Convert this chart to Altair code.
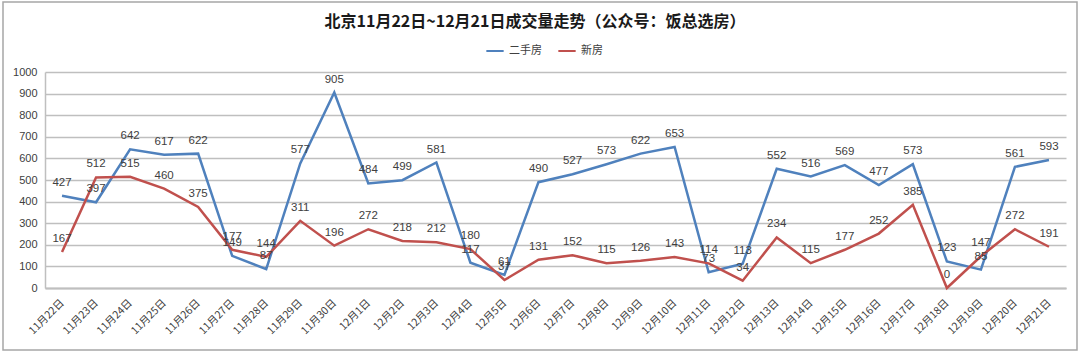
import altair as alt
import pandas as pd

dates = ["11月22日", "11月23日", "11月24日", "11月25日", "11月26日", "11月27日", "11月28日",
         "11月29日", "11月30日", "12月1日", "12月2日", "12月3日", "12月4日", "12月5日",
         "12月6日", "12月7日", "12月8日", "12月9日", "12月10日", "12月11日", "12月12日",
         "12月13日", "12月14日", "12月15日", "12月16日", "12月17日", "12月18日", "12月19日",
         "12月20日", "12月21日"]
second_hand = [427, 397, 642, 617, 622, 149, 87, 577, 905, 484, 499, 581, 117, 61, 490,
               527, 573, 622, 653, 73, 113, 552, 516, 569, 477, 573, 123, 85, 561, 593]
new_house = [167, 512, 515, 460, 375, 177, 144, 311, 196, 272, 218, 212, 180, 37, 131,
             152, 115, 126, 143, 114, 34, 234, 115, 177, 252, 385, 0, 147, 272, 191]
y_ticks = [0, 100, 200, 300, 400, 500, 600, 700, 800, 900, 1000]
series_names = ["二手房", "新房"]
series_colors = ["#4F81BD", "#C0504D"]
title_text = "北京11月22日~12月21日成交量走势（公众号：饭总选房）"

rows = []
for d, a, b in zip(dates, second_hand, new_house):
    rows.append({"date": d, "series": series_names[0], "value": a})
    rows.append({"date": d, "series": series_names[1], "value": b})
df = pd.DataFrame(rows)

xenc = alt.X("date:N", sort=dates, title=None,
             scale=alt.Scale(paddingInner=1, paddingOuter=0.5),
             axis=alt.Axis(labelAngle=-45, labelAlign="right", labelBaseline="middle",
                           labelPadding=13, ticks=False, domainColor="#BFBFBF", domainWidth=2,
                           labelFont="Noto Sans CJK SC", labelFontSize=10.5, labelColor="#404040",
                           grid=False))
yenc = alt.Y("value:Q", title=None,
             scale=alt.Scale(domain=[0, 1000], nice=False),
             axis=alt.Axis(values=y_ticks, ticks=False, labelPadding=8,
                           labelOverlap=False, format="d",
                           domainColor="#BFBFBF", domainWidth=1.5,
                           gridColor="#BFBFBF", gridWidth=1.5,
                           labelFont="Liberation Sans", labelFontSize=11, labelColor="#404040"))
color = alt.Color("series:N", sort=series_names,
                  scale=alt.Scale(domain=series_names, range=series_colors),
                  legend=alt.Legend(title=None, orient="none", legendX=440, legendY=-31,
                                    direction="horizontal", symbolType="stroke",
                                    symbolStrokeWidth=2, symbolSize=300,
                                    labelFont="Noto Sans CJK SC", labelFontSize=11,
                                    labelColor="#404040", columnPadding=12))

base = alt.Chart(df)
lines = base.mark_line(strokeWidth=2.5).encode(x=xenc, y=yenc, color=color,
                                               order=alt.Order("series:N"))
labels = base.mark_text(dy=-13, font="Liberation Sans", fontSize=11.5, color="#404040").encode(
    x=xenc, y=yenc, text="value:Q")

title_df = pd.DataFrame({"t": [title_text]})
title = alt.Chart(title_df).mark_text(font="Noto Sans CJK SC", fontSize=16, fontWeight="bold",
                                      color="#1a1a1a").encode(
    text="t:N", x=alt.value(490), y=alt.value(-50))

border = alt.Chart(title_df).mark_rect(fillOpacity=0, stroke="#A6A6A6", strokeWidth=1.5).encode(
    x=alt.value(-42), x2=alt.value(1032), y=alt.value(-70), y2=alt.value(278))

chart = alt.layer(border, lines, labels, title).properties(
    width=1021, height=216,
    padding={"left": 45, "top": 72, "right": 14, "bottom": 65},
    autosize="none",
    background="white",
).configure_view(stroke=None)

chart.save("out.html", embed_options={"renderer": "svg", "actions": False})
